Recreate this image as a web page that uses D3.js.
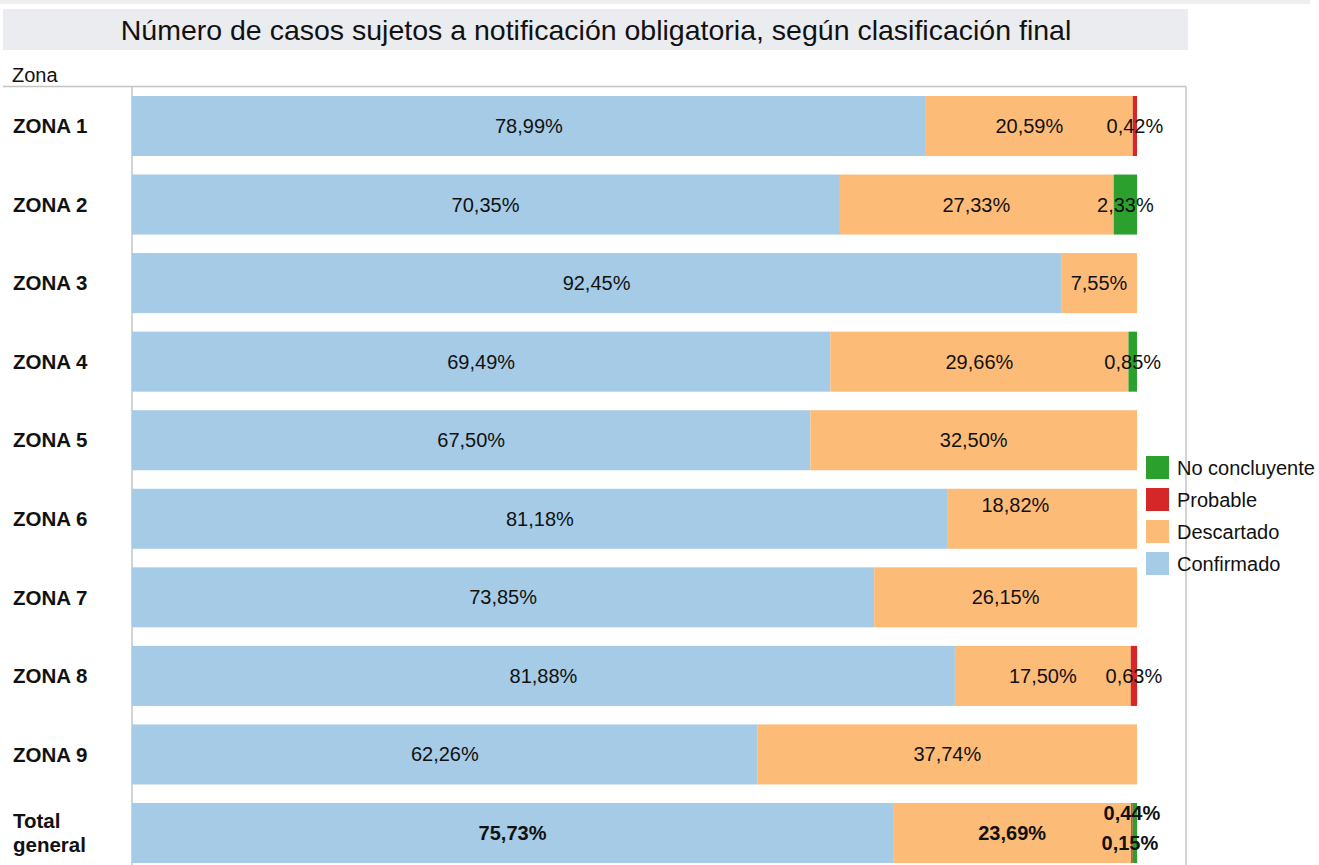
<!DOCTYPE html>
<html>
<head>
<meta charset="utf-8">
<script src="https://cdn.jsdelivr.net/npm/d3@7"></script>
<style>
  body { margin: 0; background: #fff; }
  text { font-family: "Liberation Sans", Arial, sans-serif; fill: #111; }
</style>
</head>
<body>
<div id="chart-area"></div>
<script>
// data
var zones = ["ZONA 1", "ZONA 2", "ZONA 3", "ZONA 4", "ZONA 5", "ZONA 6", "ZONA 7", "ZONA 8", "ZONA 9", "Total general"];
var confirmado = [78.99, 70.35, 92.45, 69.49, 67.50, 81.18, 73.85, 81.88, 62.26, 75.73];
var descartado = [20.59, 27.33, 7.55, 29.66, 32.50, 18.82, 26.15, 17.50, 37.74, 23.69];
var probable = [0.42, 0, 0, 0, 0, 0, 0, 0.63, 0, 0.15];
var noConcluyente = [0, 2.33, 0, 0.85, 0, 0, 0, 0, 0, 0.44];

var seriesNames = ["Confirmado", "Descartado", "Probable", "No concluyente"];
var seriesKeys = ["confirmado", "descartado", "probable", "noConcluyente"];
var colors = ["#a5cbe6", "#fdbb78", "#d62728", "#2ca02c"];

var width = 1319;
var height = 865;

var rows = zones.map(function(z, i) {
  return {
    zona: z,
    confirmado: confirmado[i],
    descartado: descartado[i],
    probable: probable[i],
    noConcluyente: noConcluyente[i]
  };
});

var svg = d3.select("#chart-area")
  .append("svg")
  .attr("width", width)
  .attr("height", height);

// top strip + title box
svg.append("rect")
  .attr("x", 0).attr("y", 0)
  .attr("width", 1310).attr("height", 4)
  .attr("fill", "#efefef");

svg.append("rect")
  .attr("x", 3).attr("y", 9)
  .attr("width", 1185).attr("height", 41)
  .attr("fill", "#ebecf0");

svg.append("text")
  .attr("x", 596)
  .attr("y", 30)
  .attr("dy", "0.35em")
  .attr("text-anchor", "middle")
  .attr("font-size", "28.5px")
  .text("Número de casos sujetos a notificación obligatoria, según clasificación final");

svg.append("text")
  .attr("x", 12)
  .attr("y", 75)
  .attr("dy", "0.35em")
  .attr("font-size", "20px")
  .text("Zona");

// Scales
var x = d3.scaleLinear()
  .domain([0, 100])
  .range([132, 1137]);

var y = d3.scaleBand()
  .domain(zones)
  .range([86.7, 872.3])
  .paddingInner(0.236)
  .paddingOuter(0.118);

// frame
var frame = svg.append("g")
  .attr("stroke", "#c4c4c4")
  .attr("stroke-width", 1.5);
frame.append("line").attr("x1", 3).attr("x2", 1186).attr("y1", 86.5).attr("y2", 86.5);
frame.append("line").attr("x1", 132).attr("x2", 132).attr("y1", 86.5).attr("y2", height);
frame.append("line").attr("x1", 1186).attr("x2", 1186).attr("y1", 86.5).attr("y2", height);

// Stack
var stacked = d3.stack().keys(seriesKeys)(rows);

var layers = svg.selectAll("g.layer")
  .data(stacked)
  .enter()
  .append("g")
  .attr("class", "layer")
  .attr("fill", function(d, i) { return colors[i]; });

layers.selectAll("rect")
  .data(function(d) { return d; })
  .enter()
  .append("rect")
  .attr("x", function(d) { return x(d[0]); })
  .attr("y", function(d) { return y(d.data.zona); })
  .attr("width", function(d) { return x(d[1]) - x(d[0]); })
  .attr("height", y.bandwidth());

// labels
var locale = d3.formatLocale({ decimal: ",", thousands: ".", grouping: [3], currency: ["", "€"] });
var fmt = locale.format(".2f");

// small nudges where the labels were moved off centre in the original
var nudge = {
  "ZONA 6|descartado": [-27, -14],
  "Total general|probable": [-2, 10],
  "Total general|noConcluyente": [-3, -20]
};

stacked.forEach(function(layer) {
  var key = layer.key;
  layer.forEach(function(d) {
    var v = d.data[key];
    if (!v) return;
    var zona = d.data.zona;
    var n = nudge[zona + "|" + key] || [0, 0];
    svg.append("text")
      .attr("x", (x(d[0]) + x(d[1])) / 2 + n[0])
      .attr("y", y(zona) + y.bandwidth() / 2 + n[1])
      .attr("dy", "0.35em")
      .attr("text-anchor", "middle")
      .attr("font-size", "20px")
      .attr("font-weight", zona === "Total general" ? "bold" : "normal")
      .text(fmt(v) + "%");
  });
});

// row labels
zones.forEach(function(z) {
  var t = svg.append("text")
    .attr("x", 13)
    .attr("font-size", "20.5px")
    .attr("font-weight", "bold");
  var cy = y(z) + y.bandwidth() / 2;
  if (z === "Total general") {
    t.append("tspan").attr("x", 13).attr("y", cy - 12).attr("dy", "0.35em").text("Total");
    t.append("tspan").attr("x", 13).attr("y", cy + 12).attr("dy", "0.35em").text("general");
  } else {
    t.attr("y", cy).attr("dy", "0.35em").text(z);
  }
});

// legend
var legendOrder = [3, 2, 1, 0];
var legend = svg.selectAll("g.legend")
  .data(legendOrder)
  .enter()
  .append("g")
  .attr("class", "legend")
  .attr("transform", function(d, i) { return "translate(1146," + (456 + i * 32) + ")"; });

legend.append("rect")
  .attr("width", 23)
  .attr("height", 23)
  .attr("fill", function(d) { return colors[d]; });

legend.append("text")
  .attr("x", 31)
  .attr("y", 11.5)
  .attr("dy", "0.35em")
  .attr("font-size", "20px")
  .text(function(d) { return seriesNames[d]; });
</script>
</body>
</html>
